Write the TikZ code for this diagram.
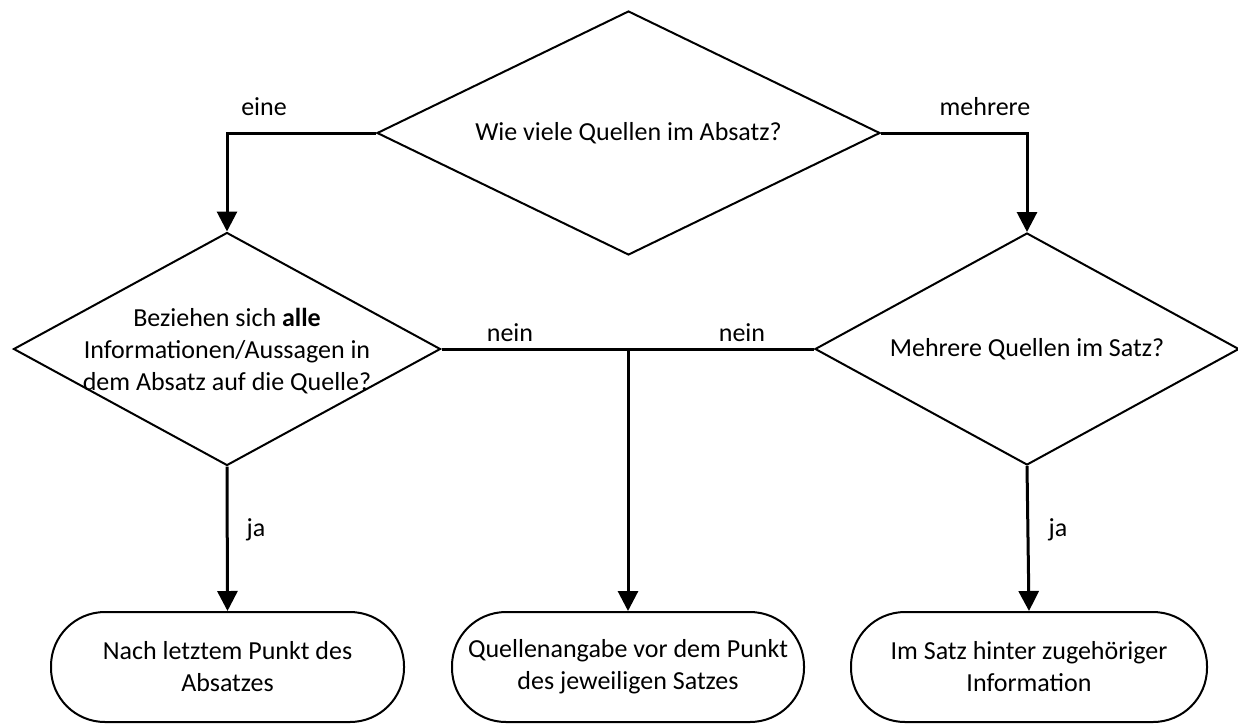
\documentclass[tikz,border=0pt]{standalone}
\usepackage{fontspec}
\setmainfont{Carlito}
\usetikzlibrary{shapes.geometric,arrows.meta}
\tikzset{
  decision/.style={draw, line width=2pt, diamond, inner sep=0pt, minimum width=#1},
  terminal/.style={draw, line width=2pt, rectangle, rounded corners=54pt, minimum width=#1, minimum height=110pt, align=center, font=\fontsize{26}{32}\selectfont},
  qtext/.style={align=center, font=\fontsize{26}{32}\selectfont},
  conn/.style={line width=3pt},
  arr/.style={line width=3pt, -{Triangle[width=20pt,length=20pt]}},
  lbl/.style={font=\fontsize{26}{32}\selectfont}
}
\begin{document}
\begin{tikzpicture}[x=1pt,y=-1pt]
\useasboundingbox (0,0) rectangle (1238,723);
\node[decision=503pt, minimum height=244pt] (q1) at (628.5,133) {};
\node[qtext] (q1t) at (628.5,133) {Wie viele Quellen im Absatz?};
\node[decision=427pt, minimum height=233pt] (q2) at (227,349) {};
\node[qtext] (q2t) at (227,351) {Beziehen sich \textbf{alle}\\Informationen/Aussagen in\\dem Absatz auf die Quelle?};
\node[decision=424pt, minimum height=232pt] (q3) at (1027,349) {};
\node[qtext] (q3t) at (1027,349) {Mehrere Quellen im Satz?};
\node[terminal=353pt] (t1) at (227.5,667) {Nach letztem Punkt des\\Absatzes};
\node[terminal=352pt] (t2) at (628,667) {Quellenangabe vor dem Punkt\\des jeweiligen Satzes};
\node[terminal=356pt] (t3) at (1029,667) {Im Satz hinter zugehöriger\\Information};
\coordinate (j) at (t2.north |- q2.east);
\draw[arr] (q1.west) -| (q2.north);
\draw[arr] (q1.east) -| (q3.north);
\draw[conn] (q2.east) -- (q3.west);
\draw[arr] (j) -- (t2.north);
\draw[arr] (q2.south) -- (t1.north);
\draw[arr] (q3.south) -- (t3.north);
\node[lbl] (l1) at (264,107) {eine};
\node[lbl] (l2) at (985,107) {mehrere};
\node[lbl] (l3) at (510,333) {nein};
\node[lbl] (l4) at (742,333) {nein};
\node[lbl] (l5) at (256,530) {ja};
\node[lbl] (l6) at (1058,530) {ja};
\end{tikzpicture}
\end{document}
